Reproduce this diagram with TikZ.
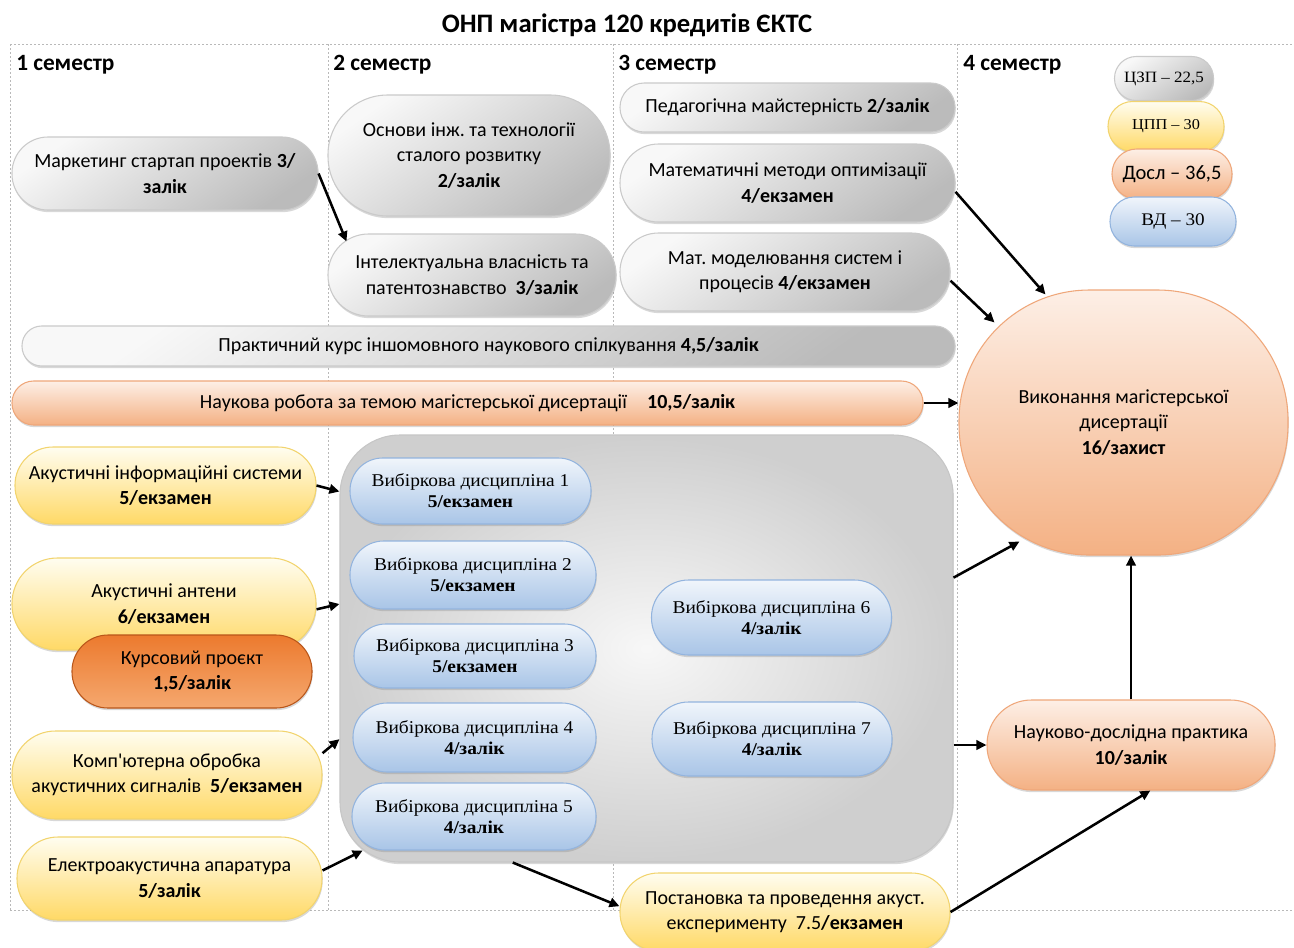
\documentclass[tikz,border=0pt]{standalone}
\usepackage{fontspec}
\setmainfont{Carlito}
\newfontfamily\vdfont[FakeStretch=1.08]{Liberation Serif}
\usetikzlibrary{shadows,arrows.meta,calc}

\definecolor{gLight}{HTML}{F8F8F8}
\definecolor{gDark}{HTML}{BBBBBB}
\definecolor{gEdge}{HTML}{CACACA}
\definecolor{yLight}{HTML}{FFFDF0}
\definecolor{yDark}{HTML}{FFD966}
\definecolor{yEdge}{HTML}{F2D46E}
\definecolor{oLight}{HTML}{FDEFE6}
\definecolor{oDark}{HTML}{F4B184}
\definecolor{oEdge}{HTML}{EFA77A}
\definecolor{bLight}{HTML}{F0F5FB}
\definecolor{bDark}{HTML}{A9C5E7}
\definecolor{bEdge}{HTML}{93B4DE}
\definecolor{kTop}{HTML}{EC7A2E}
\definecolor{kBot}{HTML}{F5A86F}
\definecolor{kEdge}{HTML}{B9561A}

\begin{document}
\frenchspacing
\begin{tikzpicture}[x=0.75pt, y=-0.75pt,
    every node/.style={font=\fontsize{15}{19}\selectfont, align=center, inner sep=0pt},
    pill/.style 2 args={rectangle, minimum width=#1*0.75pt, minimum height=#2*0.75pt,
        rounded corners=#2*0.37pt, line width=0.8pt,
        drop shadow={shadow xshift=0.5pt, shadow yshift=-1.6pt, opacity=.3}},
    grayp/.style={draw=gEdge, top color=gLight, bottom color=gDark, shading angle=35},
    yellp/.style={draw=yEdge, top color=yLight, bottom color=yDark},
    orngp/.style={draw=oEdge, top color=oLight, bottom color=oDark},
    bluep/.style={draw=bEdge, top color=bLight, bottom color=bDark,
        font=\vdfont\fontsize{13.5}{15.8}\selectfont},
    kursp/.style={draw=kEdge, top color=kTop, bottom color=kBot},
    grid/.style={gray!55, line width=0.4pt, dash pattern=on 1.5pt off 1.5pt},
    arr/.style={line width=1.9pt, -{Triangle[length=7.5pt, width=7pt]}},
    sem/.style={anchor=west, font=\fontsize{17.5}{20}\selectfont\bfseries}
]
\fill[white] (0,0) rectangle (1294,947);
\useasboundingbox (0,0) rectangle (1294,947);
\clip (0,0) rectangle (1294,947);

% semester grid
\draw[grid] (10,44) -- (1294,44) (10,910) -- (1294,910);
\foreach \x in {10,328,613,957} \draw[grid] (\x,44) -- (\x,910);

\node[font=\fontsize{20}{24}\selectfont\bfseries] (title) at (627,25) {ОНП магістра 120 кредитів ЄКТС};
\node[sem] (s1) at (16,65) {1 семестр};
\node[sem] (s2) at (333,65) {2 семестр};
\node[sem] (s3) at (618,65) {3 семестр};
\node[sem] (s4) at (963,65) {4 семестр};

% legend
\node[pill={99}{44}, grayp, font=\vdfont\fontsize{11.8}{13}\selectfont] (lgz) at (1164,78.5) {ЦЗП – 22,5};
\node[pill={116}{50}, yellp, font=\vdfont\fontsize{11.3}{13}\selectfont] (lgp) at (1166,126.5) {ЦПП – 30};
\node[pill={120}{50}, orngp, font=\fontsize{15.4}{17}\selectfont] (lgd) at (1172,174) {Досл – 36,5};
\node[pill={126}{49}, bluep, font=\vdfont\fontsize{13.3}{15}\selectfont] (lgv) at (1173,221.5) {ВД – 30};

% gray courses
\node[pill={306}{73}, grayp] (mark) at (165,173.5) {Маркетинг стартап проектів \textbf{3/}\\\textbf{залік}};
\node[pill={282}{121}, grayp] (osn) at (469,155.5) {Основи інж. та технології\\сталого розвитку\\\textbf{2/залік}};
\node[pill={288}{82}, grayp] (intel) at (472,275) {Інтелектуальна власність та\\патентознавство\ \ \textbf{3/залік}};
\node[pill={335}{49}, grayp] (ped) at (787.5,107.5) {Педагогічна майстерність \textbf{2/залік}};
\node[pill={335}{78}, grayp] (matopt) at (787.5,183) {Математичні методи оптимізації\\\textbf{4/екзамен}};
\node[pill={330}{78}, grayp] (matmod) at (785,272) {Мат. моделювання систем і\\процесів \textbf{4/екзамен}};
\node[pill={933}{40}, grayp] (lang) at (488.5,346) {Практичний курс іншомовного наукового спілкування \textbf{4,5/залік}};
\node[pill={911}{44}, orngp] (nauk) at (467.5,403) {Наукова робота за темою магістерської дисертації\quad\textbf{10,5/залік}};

% thesis
\node[rectangle, minimum width=329*0.75pt, minimum height=265*0.75pt, rounded corners=98pt,
    line width=0.8pt, orngp, drop shadow={shadow xshift=0.5pt, shadow yshift=-1.6pt, opacity=.3}]
    (diss) at (1123.5,422.5) {Виконання магістерської\\дисертації\\\textbf{16/захист}};

% electives block
\node[rectangle, minimum width=613*0.75pt, minimum height=427*0.75pt, rounded corners=45pt,
    draw=gray!45, line width=0.8pt, inner color=gray!6, outer color=gray!38,
    drop shadow={shadow xshift=0.5pt, shadow yshift=-1.6pt, opacity=.3}] (elec) at (646.5,648.5) {};
\node[pill={241}{66}, bluep] (vd1) at (470.5,491) {Вибіркова дисципліна 1\\\textbf{5/екзамен}};
\node[pill={246}{68}, bluep] (vd2) at (473,575) {Вибіркова дисципліна 2\\\textbf{5/екзамен}};
\node[pill={242}{64}, bluep] (vd3) at (475,656) {Вибіркова дисципліна 3\\\textbf{5/екзамен}};
\node[pill={243}{69}, bluep] (vd4) at (474.5,737.5) {Вибіркова дисципліна 4\\\textbf{4/залік}};
\node[pill={244}{67}, bluep] (vd5) at (474,816.5) {Вибіркова дисципліна 5\\\textbf{4/залік}};
\node[pill={240}{75}, bluep] (vd6) at (771.5,617.5) {Вибіркова дисципліна 6\\\textbf{4/залік}};
\node[pill={240}{74}, bluep] (vd7) at (772,739) {Вибіркова дисципліна 7\\\textbf{4/залік}};

% professional courses
\node[pill={301}{77}, yellp] (akinf) at (165.5,485.5) {Акустичні інформаційні системи\\\textbf{5/екзамен}};
\node[pill={304}{92}, yellp] (akant) at (164,604) {Акустичні антени\\\textbf{6/екзамен}};
\node[pill={240}{73}, kursp] (kurs) at (192,671.5) {Курсовий проєкт\\\textbf{1,5/залік}};
\node[pill={310}{88}, yellp] (komp) at (167,775) {Комп\textquotesingle ютерна обробка\\акустичних сигналів\ \ \textbf{5/екзамен}};
\node[pill={305}{83}, yellp] (elak) at (169.5,878.5) {Електроакустична апаратура\\\textbf{5/залік}};
\node[pill={330}{78}, yellp] (exper) at (785,912) {Постановка та проведення акуст.\\експерименту\ \ 7.5\textbf{/екзамен}};
\node[pill={288}{90}, orngp] (prak) at (1131,745) {Науково-дослідна практика\\\textbf{10/залік}};

% arrows
\draw[arr] (mark.east) -- ($(intel.north west)+(19,8)$);
\draw[arr] (matopt.-3) -- ($(diss.north)+(-78,5)$);
\draw[arr] (matmod.-3) -- ($(diss.north west)+(36,33)$);
\draw[arr] (nauk.east) -- (nauk.east -| diss.west);
\draw[arr] (elec.13) -- ($(diss.south west)+(61,-14)$);
\draw[arr] (prak.north) -- (prak.north |- diss.south);
\draw[arr] (elec.east |- prak.west) -- (prak.west);
\draw[arr] (exper.east) -- (prak.-67);
\draw[arr] (elec.-122) -- (exper.178);
\draw[arr] (akinf.east) -- ($(akinf.east -| elec.west)+(0,6)$);
\draw[arr] (akant.-2) -- (akant.east -| elec.west);
\draw[arr] (komp.8) -- ($(komp.8 -| elec.west)+(0,-14)$);
\draw[arr] (elak.3) -- (vd5.197);
\end{tikzpicture}
\end{document}
